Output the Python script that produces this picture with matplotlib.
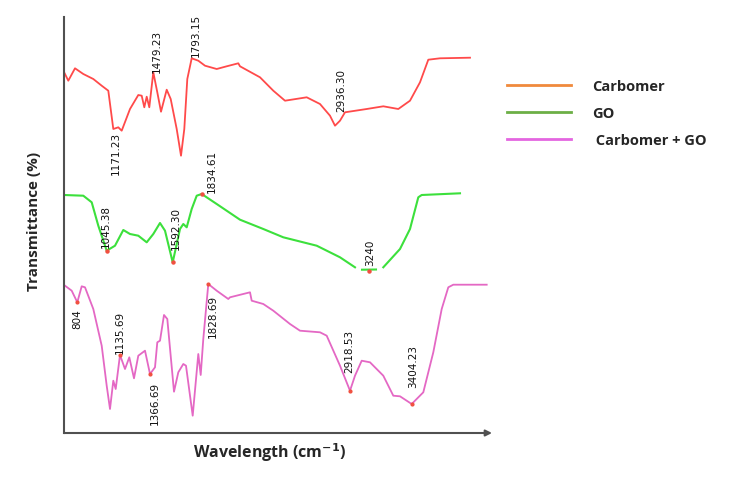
import numpy as np
import matplotlib
matplotlib.use("Agg")
import matplotlib.pyplot as plt
from matplotlib.lines import Line2D

# ---------------- data (relative position vs. transmittance, arbitrary units) -------------
carbomer_x = [0, 4.3, 11, 19.3, 29.3, 37.7, 44.3, 49.3, 54.3, 57.7, 66, 74.3, 77.7, 80.3, 82.7,
              85.3, 89.3, 93.3, 97, 102.7, 106.7, 112.7, 117, 120.3, 123.3, 127.7, 134.3, 141,
              152.7, 162.7, 174.3, 176, 196, 209.3, 221, 242.7, 256, 266, 271, 276, 281, 302.7,
              319.3, 334.3, 346, 356, 364.3, 376, 406]
carbomer_y = [361, 352.3, 364.7, 359, 354, 347.3, 342.3, 304, 305.7, 302.3, 324, 338, 337.3, 325.7,
              336.3, 325.7, 360.7, 340.7, 321.3, 343.3, 334, 304, 277.3, 304, 354, 374.7, 372.3,
              367.3, 364, 366.7, 369.7, 366.7, 355.7, 342.3, 332.3, 335.7, 329, 317.3, 307.3,
              312.3, 320.7, 324, 326.7, 324, 332.3, 350.7, 373.3, 374.7, 375.3]

go_x = [0, 19.3, 27.7, 34.3, 42.7, 51, 59.3, 66, 74.3, 82.7, 89.3, 96, 101, 108.7, 116, 119.3,
        122.7, 127.7, 132.7, 137.7, 152.7, 176, 199.3, 219.3, 252.7, 276, 291, np.nan, 298, 312,
        np.nan, 319.3, 336, 346, 354.3, 357.7, 396]
go_y = [238, 237.3, 230.7, 207.3, 182.3, 187.3, 203, 199, 197.3, 190.7, 199, 210, 202.3, 170.7,
        204, 209, 205.7, 224, 237.3, 239, 229, 213.3, 204, 195.7, 187.3, 175.7, 165.7, np.nan,
        163.3, 163.5, np.nan, 165.7, 184, 204, 235.7, 238, 239.7]

mix_x = [1, 7.7, 13.3, 17.7, 21, 29.3, 37.7, 42.7, 46, 49.3, 51.7, 56, 61, 65.3, 70, 74.3, 81, 86,
         91, 93.3, 96, 100, 103.3, 110, 114.3, 119.3, 122, 128.7, 134.3, 136.7, 139.3, 144.3,
         152.7, 164.3, 166, 186, 187.7, 199.3, 209.3, 226, 236, 256, 262.7, 276, 286, 291,
         297.7, 306, 319.3, 329.3, 336, 347.7, 359.3, 369.3, 377.7, 384.3, 389.3, 422.7]
mix_y = [147.3, 142.3, 130.7, 146.7, 145.7, 124, 87.3, 47.3, 24, 52.3, 44, 78, 64, 75.7, 54.7, 77.3,
         82.3, 59, 65.7, 90.7, 92.3, 118, 114, 41.3, 60.7, 69, 67.3, 17.3, 79, 58, 94, 149,
         142.3, 134, 135.7, 140.7, 132.3, 129, 122.3, 109, 102.3, 100.7, 97.3, 67.3, 42.3, 57.3,
         72.3, 70.7, 57.3, 37.3, 36.7, 29, 40.7, 80.7, 124, 145.7, 148.3, 148.3]

# marked peaks (small red dots)
go_peak_x = [42.7, 108.7, 137.7, 305.3]
go_peak_y = [182.3, 170.7, 239, 162.3]
mix_peak_x = [13.3, 56, 86, 144.3, 286, 347.7]
mix_peak_y = [130.7, 78, 59, 149, 42.3, 29]

# peak labels and where their text sits
peak_labels = ["1171.23", "1479.23", "1793.15", "2936.30",
               "1045.38", "1592.30", "1834.61", "3240",
               "804", "1135.69", "1366.69", "1828.69", "2918.53", "3404.23"]
label_x = [52, 93, 132, 277, 42, 112, 148, 306, 13, 56, 91, 149, 285, 349]
label_y = [281, 383, 399, 343, 208, 206, 263, 181, 115, 102, 31, 118, 83, 67]

legend_labels = ["Carbomer", "GO", " Carbomer + GO"]

# ---------------- figure -------------------------------------------------------------------
W, H = 731, 485
fig = plt.figure(figsize=(W / 100, H / 100), dpi=100)
ax = fig.add_axes([64 / W, (H - 434) / H, 428 / W, 416 / H])

ax.plot(carbomer_x, carbomer_y, color="#ff4a4a", lw=1.3)
ax.plot(go_x, go_y, color="#3ce03c", lw=1.5)
ax.plot(mix_x, mix_y, color="#e468c4", lw=1.3)
ax.plot(go_peak_x, go_peak_y, "o", color="#f05040", ms=2.2, zorder=4)
ax.plot(mix_peak_x, mix_peak_y, "o", color="#f05040", ms=2.0, zorder=4)

for t, x, y in zip(peak_labels, label_x, label_y):
    ax.text(x, y, t, rotation=90, ha="center", va="center", fontsize=7.5,
            color="#111111", family="DejaVu Sans")

ax.set_xlim(0, 428)
ax.set_ylim(0, 416)
ax.set_xticks([])
ax.set_yticks([])
for s in ["top", "right", "bottom"]:
    ax.spines[s].set_visible(False)
ax.spines["left"].set_color("#505050")
ax.spines["left"].set_linewidth(1.5)
ax.annotate("", xy=(1.0, 0), xytext=(0, 0), xycoords="axes fraction",
            arrowprops=dict(arrowstyle="-|>", color="#505050", lw=1.5,
                            mutation_scale=9, shrinkA=0, shrinkB=0))

ax.set_ylabel("Transmittance (%)", fontsize=11, fontweight="bold", color="#262626",
              family="Open Sans")
ax.yaxis.set_label_coords(-0.054, 0.512)
ax.set_xlabel("Wavelength (cm$^{\\mathbf{-1}}$)", fontsize=11.5, fontweight="bold",
              color="#262626", family="Open Sans")
ax.xaxis.set_label_coords(0.481, -0.046)
ax.xaxis.label.set_va("center")

handles = [Line2D([], [], color="#f08a3c", lw=2.0),
           Line2D([], [], color="#6caf46", lw=2.0),
           Line2D([], [], color="#e466e0", lw=2.0)]
fig.legend(handles, legend_labels, loc="upper left", bbox_to_anchor=(507 / W, 1 - 80 / H),
           frameon=False, handlelength=4.4, handletextpad=1.45, labelspacing=0.88,
           borderpad=0, borderaxespad=0,
           prop=dict(family="Open Sans", weight="bold", size=10.5), labelcolor="#262626")

fig.savefig("out.png", dpi=100)
